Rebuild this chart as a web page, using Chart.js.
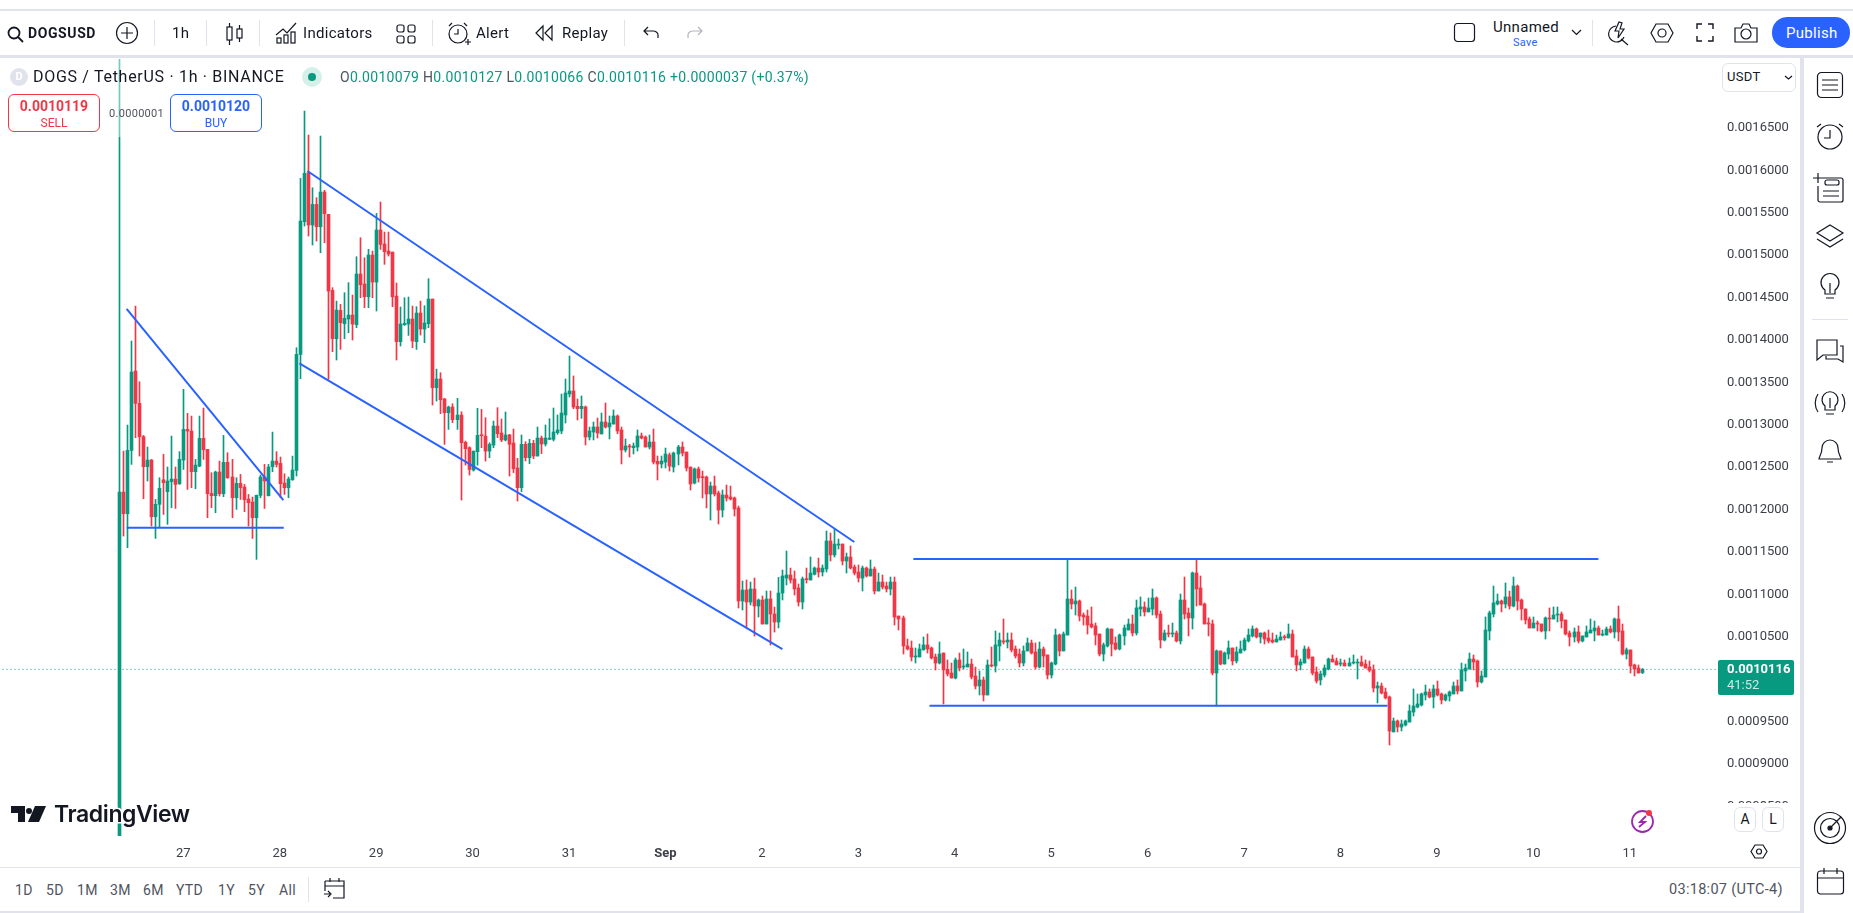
<!DOCTYPE html>
<html>
<head>
<meta charset="utf-8">
<title>DOGSUSD</title>
<script src="https://cdn.jsdelivr.net/npm/chart.js@4"></script>
<style>
  html, body { margin: 0; padding: 0; background: #fff; overflow: hidden; }
  body { width: 1853px; height: 913px; position: relative; font-family: Roboto, sans-serif; color: #131722; }
  .band { position: absolute; background: #e0e3eb; }
  .t { position: absolute; transform: translateY(-50%); white-space: nowrap; font-size: 15px; line-height: 1; letter-spacing: .3px; }
  .sep { position: absolute; width: 1px; background: #e0e3eb; }
  svg { position: absolute; fill: none; stroke: #131722; stroke-width: 1.2; overflow: visible; }
  canvas { position: absolute; left: 0; top: 59px; }
  .box { position: absolute; border-radius: 6px; background: #fff; box-sizing: border-box; text-align: center; }
  .g { color: #089981; } .m { color: #50535e; }
</style>
</head>
<body>
<canvas id="grafico" width="1800" height="808" style="width:1800px;height:808px"></canvas>

<div class="band" style="left:0;top:9px;width:1853px;height:2px"></div>
<div class="band" style="left:0;top:55px;width:1853px;height:3px"></div>
<div class="band" style="left:1800px;top:55px;width:4px;height:858px"></div>
<div class="band" style="left:0;top:911px;width:1800px;height:2px"></div>
<div class="band" style="left:0;top:867px;width:1800px;height:1px"></div>

<!-- legend veil over the first wick -->
<div style="position:absolute;left:0;top:58px;width:265px;height:79px;background:rgba(255,255,255,.45)"></div>

<!-- top toolbar -->
<svg style="left:7px;top:26px" width="18" height="18" stroke-width="1.8"><circle cx="7" cy="7" r="5.5" stroke-width="1.8"/><path d="M11 11l5 5" stroke-width="1.8"/></svg>
<span class="t" style="left:28px;top:33px;font-weight:700;font-size:14px;letter-spacing:.6px">DOGSUSD</span>
<svg style="left:116px;top:22px" width="22" height="22"><circle cx="11" cy="11" r="10.5"/><path d="M11 5v12M5 11h12"/></svg>
<div class="sep" style="left:154px;top:20px;height:26px"></div>
<span class="t" style="left:172px;top:33px">1h</span>
<div class="sep" style="left:206px;top:20px;height:26px"></div>
<svg style="left:226px;top:22px" width="17" height="24"><rect x="1" y="5" width="5" height="13"/><path d="M3.5 1v4M3.5 18v5"/><rect x="11" y="7" width="5" height="9"/><path d="M13.5 3v4M13.5 16v4"/></svg>
<div class="sep" style="left:259px;top:20px;height:26px"></div>
<svg style="left:276px;top:22px" width="21" height="22"><path d="M0 13l7-6 4 4 9-10"/><rect x="1" y="16" width="4" height="5"/><rect x="8" y="13" width="4" height="8"/><rect x="15" y="10" width="4" height="11"/></svg>
<span class="t" style="left:303px;top:33px">Indicators</span>
<svg style="left:396px;top:24px" width="20" height="20"><rect x="1" y="1" width="7" height="7" rx="2"/><rect x="12" y="1" width="7" height="7" rx="2"/><rect x="1" y="12" width="7" height="7" rx="2"/><rect x="12" y="12" width="7" height="7" rx="2"/></svg>
<div class="sep" style="left:432px;top:20px;height:26px"></div>
<svg style="left:447px;top:22px" width="24" height="24"><circle cx="11" cy="12" r="9"/><path d="M11 7v5H7M2 4l3-3M17 1l3 3M18 20h6M21 17v6"/></svg>
<span class="t" style="left:476px;top:33px">Alert</span>
<svg style="left:535px;top:25px" width="18" height="16"><path d="M8 1L1 8l7 7zM17 1l-7 7 7 7z"/></svg>
<span class="t" style="left:562px;top:33px">Replay</span>
<div class="sep" style="left:624px;top:20px;height:26px"></div>
<svg style="left:643px;top:26px" width="17" height="14"><path d="M5 1L1 5l4 4M1 5h9c3 0 5 2 5 4v3"/></svg>
<svg style="left:686px;top:26px;stroke:#b2b5be" width="17" height="14"><path d="M12 1l4 4-4 4M16 5H7C4 5 2 7 2 9v3"/></svg>
<svg style="left:1454px;top:23px" width="21" height="19"><rect x="0.5" y="0.5" width="20" height="18" rx="3"/></svg>
<span class="t" style="left:1493px;top:27px">Unnamed</span>
<span class="t" style="left:1513px;top:42px;font-size:11px;color:#2962ff">Save</span>
<svg style="left:1572px;top:30px" width="9" height="6"><path d="M0 0l4.5 4.5L9 0"/></svg>
<div class="sep" style="left:1592px;top:20px;height:26px"></div>
<svg style="left:1608px;top:21px" width="21" height="23"><path d="M8 5a8 8 0 1 0 8 11M13 18l7 6M11 1l-4 9h4l-1 7 6-9h-4l2-6z"/></svg>
<svg style="left:1650px;top:23px" width="24" height="20"><path d="M6 1h12l5 9-5 9H6l-5-9z"/><circle cx="12" cy="10" r="4"/></svg>
<svg style="left:1696px;top:23px" width="18" height="19"><path d="M1 6V1h5M12 1h5v5M17 13v5h-5M6 18H1v-5" stroke-width="1.4"/></svg>
<svg style="left:1734px;top:23px" width="24" height="20"><path d="M1 5h6l2-4h6l2 4h6v14H1z"/><circle cx="12" cy="11" r="5"/></svg>
<div style="position:absolute;left:1772px;top:17px;width:78px;height:31px;border-radius:15px;background:#2962ff"></div>
<span class="t" style="left:1786px;top:33px;color:#fff">Publish</span>

<!-- legend row -->
<div style="position:absolute;left:10px;top:68px;width:18px;height:18px;border-radius:50%;background:#e0e3eb;color:#fff;font-size:11px;font-weight:700;text-align:center;line-height:18px">D</div>
<span class="t" style="left:33px;top:77px;font-size:16px;letter-spacing:.7px">DOGS / TetherUS · 1h · BINANCE</span>
<div style="position:absolute;left:302px;top:67px;width:20px;height:20px;border-radius:50%;background:#d5efe9"></div>
<div style="position:absolute;left:308px;top:73px;width:8px;height:8px;border-radius:50%;background:#089981"></div>
<span class="t" style="left:340px;top:77px;font-size:14px"><span class="m">O</span><span class="g">0.0010079</span> <span class="m">H</span><span class="g">0.0010127</span> <span class="m">L</span><span class="g">0.0010066</span> <span class="m">C</span><span class="g">0.0010116 +0.0000037 (+0.37%)</span></span>

<div class="box" style="left:8px;top:94px;width:92px;height:38px;border:1px solid #f23645;color:#f23645">
  <div style="font-size:14px;font-weight:700;margin-top:3px">0.0010119</div><div style="font-size:12px;margin-top:2px">SELL</div>
</div>
<span class="t" style="left:109px;top:113px;font-size:11px;color:#50535e">0.0000001</span>
<div class="box" style="left:170px;top:94px;width:92px;height:38px;border:1px solid #2962ff;color:#2962ff">
  <div style="font-size:14px;font-weight:700;margin-top:3px">0.0010120</div><div style="font-size:12px;margin-top:2px">BUY</div>
</div>

<div class="box" style="left:1722px;top:63px;width:74px;height:29px;border:1px solid #e0e3eb"></div>
<span class="t" style="left:1727px;top:76px;font-size:13px">USDT</span>
<svg style="left:1785px;top:76px" width="7" height="4"><path d="M0 0l3.5 3L7 0"/></svg>

<!-- cuts the lowest price label like the pane does -->
<div style="position:absolute;left:1719px;top:803px;width:80px;height:32px;background:#fff"></div>
<div class="box" style="left:1734px;top:807px;width:22px;height:25px;border:1px solid #e0e3eb;font-size:14px;line-height:23px">A</div>
<div class="box" style="left:1762px;top:807px;width:22px;height:25px;border:1px solid #e0e3eb;font-size:14px;line-height:23px">L</div>
<svg style="left:1631px;top:810px;stroke:#9c27b0" width="23" height="23"><circle cx="11.5" cy="11.5" r="10.5" stroke-width="1.8"/><path d="M15 6l-6 6h5l-6 5" stroke-width="1.8"/></svg>
<div style="position:absolute;left:1646px;top:810px;width:6px;height:6px;border-radius:50%;background:#f23645"></div>
<svg style="left:1751px;top:844px" width="16" height="15"><path d="M4 1h8l4 6.5-4 6.5H4L0 7.5z"/><circle cx="8" cy="7.5" r="2.5"/></svg>

<!-- TradingView logo -->
<svg style="left:11px;top:806px;fill:#131722;stroke:none" width="36" height="18"><path d="M0 0h14v16H7V7H0zM15 5a3 3 0 1 0 6 0a3 3 0 1 0-6 0M24 0h11l-7 16H17z"/></svg>
<span class="t" style="left:54px;top:814px;font-family:Inter,sans-serif;font-weight:600;font-size:23px;letter-spacing:-.4px;-webkit-text-stroke:3px #fff;paint-order:stroke fill">TradingView</span>

<!-- range row -->
<span class="t m" style="left:15px;top:890px;font-size:14px">1D</span>
<span class="t m" style="left:46px;top:890px;font-size:14px">5D</span>
<span class="t m" style="left:77px;top:890px;font-size:14px">1M</span>
<span class="t m" style="left:110px;top:890px;font-size:14px">3M</span>
<span class="t m" style="left:143px;top:890px;font-size:14px">6M</span>
<span class="t m" style="left:176px;top:890px;font-size:14px">YTD</span>
<span class="t m" style="left:218px;top:890px;font-size:14px">1Y</span>
<span class="t m" style="left:248px;top:890px;font-size:14px">5Y</span>
<span class="t m" style="left:279px;top:890px;font-size:14px">All</span>
<div class="sep" style="left:308px;top:877px;height:25px"></div>
<svg style="left:324px;top:878px" width="21" height="21"><path d="M6 0v4M15 0v4M1 3h19v17H9M1 3v10M1 8h19M0 16h6M4 13l3 3-3 3"/></svg>
<span class="t m" style="left:1669px;top:890px;font-size:14.5px">03:18:07 (UTC-4)</span>

<!-- right sidebar -->
<svg style="left:1817px;top:72px" width="26" height="26"><rect x="0.5" y="0.5" width="25" height="25" rx="4"/><path d="M5 8h16M5 13h16M5 18h16"/></svg>
<svg style="left:1816px;top:122px" width="28" height="28"><circle cx="14" cy="15" r="12"/><path d="M14 8v8H8M1 5l4-3M27 5l-4-3"/></svg>
<svg style="left:1813px;top:172px" width="30" height="30"><path d="M0 6h10M5 1v10M8 6h20a2 2 0 0 1 2 2v20a2 2 0 0 1-2 2H7a2 2 0 0 1-2-2V14"/><rect x="12" y="8" width="14" height="5" rx="2"/><path d="M10 19h16M10 24h16"/></svg>
<svg style="left:1816px;top:224px" width="28" height="24"><path d="M14 1l13 8-13 8L1 9zM1 15l13 8 13-8"/></svg>
<svg style="left:1820px;top:273px" width="20" height="28"><path d="M5 17a9 9 0 1 1 10 0v4H5zM6 25h8M10 10v10"/></svg>
<div style="position:absolute;left:1812px;top:319px;width:36px;height:1px;background:#e0e3eb"></div>
<svg style="left:1816px;top:339px" width="28" height="26"><path d="M1 1h20v15H7l-6 5zM24 7h3v16l-5-3H10v-3"/></svg>
<svg style="left:1812px;top:388px" width="36" height="30"><path d="M13 18a8 8 0 1 1 10 0v4H13zM14 26h8M18 10v10M6 6a16 16 0 0 0 0 18M30 6a16 16 0 0 1 0 18"/></svg>
<svg style="left:1818px;top:438px" width="24" height="27"><path d="M12 2a8 8 0 0 1 8 8c0 6 3 9 3 11H1c0-2 3-5 3-11a8 8 0 0 1 8-8zM9 24h6"/></svg>
<svg style="left:1814px;top:812px" width="32" height="32"><circle cx="16" cy="16" r="15.5"/><circle cx="16" cy="16" r="9.5"/><circle cx="16" cy="16" r="2" fill="#131722"/><path d="M16 16L27 5"/></svg>
<svg style="left:1817px;top:867px" width="27" height="28"><rect x="0.5" y="4" width="26" height="23" rx="3"/><path d="M0.5 11h26M7 1v6M20 1v6"/></svg>

<script>
// all prices in units of 0.0000001 USDT, one entry per 1h candle
const unidad = 1e-7;

const opens = [
  8000,12207,11951,12698,13634,13253,12860,12506,12584,11916,
  12062,12352,12211,12329,12360,12305,12584,12946,12926,12447,
  12513,12840,12710,12191,12164,12443,12187,12557,12384,12140,
  12309,12266,12124,12089,11904,12168,12384,12164,12506,12572,
  12545,12313,12258,12352,12462,13830,15395,15973,15356,15599,
  15336,15745,15481,14585,14015,14349,14192,14247,14294,14180,
  14778,14660,14510,15002,14683,15297,15132,15049,15037,14518,
  13980,14180,14188,14247,13980,14318,14129,14192,14483,13437,
  13540,13304,13142,13209,13060,13115,12793,12730,12466,12683,
  12879,12867,12690,12761,12985,12903,12821,12880,12785,12491,
  12259,12770,12612,12781,12632,12844,12774,12829,12829,12907,
  12927,13116,13363,13399,13218,13190,13210,12856,12915,12974,
  12892,13033,12974,13009,13104,12939,12703,12750,12730,12738,
  12868,12856,12738,12797,12569,12538,12561,12644,12502,12656,
  12738,12679,12502,12314,12479,12384,12384,12184,12278,12196,
  11995,12172,12149,12137,12019,10922,11052,10910,11064,10863,
  10934,10651,10946,10769,10674,11016,11193,11229,11182,11076,
  10910,11182,11170,11237,11311,11264,11299,11630,11465,11582,
  11594,11394,11441,11323,11264,11193,11311,11217,11299,11040,
  11146,11099,11064,11146,10745,10722,10392,10368,10262,10262,
  10345,10404,10368,10262,10191,10309,10117,10073,10014,10227,
  10144,10144,10179,10038,9920,9991,9814,10168,10156,10392,
  10451,10439,10462,10356,10297,10191,10333,10427,10321,10144,
  10356,10286,10050,10179,10521,10333,10521,10946,10887,10922,
  10757,10745,10651,10628,10533,10297,10392,10592,10427,10356,
  10510,10580,10651,10545,10828,10852,10793,10828,10958,10769,
  10462,10545,10533,10545,10451,10934,10781,10722,11253,11076,
  10887,10663,10651,10073,10333,10179,10297,10368,10215,10309,
  10345,10451,10510,10592,10498,10545,10486,10462,10439,10462,
  10498,10486,10533,10274,10168,10191,10356,10262,10085,9991,
  10050,10120,10238,10215,10179,10191,10156,10191,10191,10203,
  10179,10144,10109,9896,9920,9849,9790,9378,9507,9436,
  9460,9495,9613,9672,9696,9814,9849,9790,9885,9826,
  9755,9802,9826,9920,9861,10097,10120,10238,10215,9967,
  10026,10569,10769,10887,10922,10887,10970,10863,11099,10934,
  10828,10710,10604,10663,10651,10569,10722,10710,10757,10769,
  10698,10545,10498,10557,10451,10498,10545,10569,10604,10521,
  10521,10592,10557,10710,10569,10297,10345,10168,10132,10079
];
const highs = [
  20000,12690,12997,13988,14400,13508,12875,12738,12592,12120,
  12376,12651,12502,12867,12502,12683,13418,13135,13103,12592,
  13103,13198,12710,12435,12454,12572,12875,12671,12592,12376,
  12415,12297,12179,12148,12172,12407,12533,12533,12914,12683,
  12620,12423,12384,12631,13909,15906,16700,16417,15796,15678,
  16405,15765,15481,14617,14459,14420,14558,14676,14530,14982,
  15206,14970,15069,15049,15493,15627,15273,15273,15037,14672,
  14389,14499,14507,14400,14393,14459,14404,14723,14483,13657,
  13614,13312,13221,13249,13312,13154,12808,12741,12690,13194,
  13182,13084,12789,13044,13202,13068,13151,12888,12950,12605,
  12880,12801,12829,12817,12974,12868,12998,13072,13198,13116,
  13363,13540,13811,13576,13304,13340,13222,12974,13033,13080,
  13139,13257,13104,13175,13116,12974,12833,12770,12785,12939,
  12903,12868,12880,12950,12632,12632,12726,12667,12679,12758,
  12797,12679,12502,12491,12502,12455,12396,12325,12396,12219,
  12231,12290,12278,12149,12042,11158,11170,11146,11193,10946,
  10981,11040,11040,10851,11201,11288,11512,11311,11276,11123,
  11205,11311,11441,11323,11429,11347,11748,11724,11771,11653,
  11594,11488,11571,11347,11347,11335,11323,11406,11323,11252,
  11229,11146,11205,11205,10745,10745,10474,10451,10368,10415,
  10498,10533,10380,10297,10439,10309,10227,10191,10250,10309,
  10356,10321,10238,10144,10097,10026,10227,10380,10569,10545,
  10710,10545,10545,10392,10356,10392,10486,10462,10427,10439,
  10380,10286,10203,10592,10533,10557,11406,11052,11087,10934,
  10781,10816,10852,10663,10533,10427,10604,10592,10498,10533,
  10639,10710,10757,10934,10970,10911,10958,11064,10970,10804,
  10580,10639,10663,10569,11005,11205,10840,11264,11406,11217,
  10899,10722,10698,10345,10333,10321,10451,10368,10380,10451,
  10486,10592,10628,10604,10545,10557,10580,10545,10521,10557,
  10521,10651,10580,10345,10238,10392,10380,10262,10144,10097,
  10168,10250,10286,10250,10238,10227,10250,10286,10238,10274,
  10227,10215,10168,9967,9955,9896,9802,9543,9519,9519,
  9519,9696,9885,9826,9837,9932,9885,9932,9979,9837,
  9826,9861,9967,9991,10191,10179,10309,10286,10227,10097,
  10734,10804,11099,11005,10934,11135,11040,11205,11111,10946,
  10828,10734,10734,10687,10651,10734,10840,10852,10852,10793,
  10698,10569,10604,10628,10510,10628,10710,10687,10628,10580,
  10616,10628,10722,10863,10651,10368,10345,10179,10168,10127
];
const lows = [
  7000,11688,11550,12533,12848,12631,12128,12337,11806,11660,
  11786,11943,11826,12022,12014,12297,12474,12238,12258,12246,
  12506,12592,11904,12022,11963,12160,12152,12368,11904,12003,
  12120,11975,11806,11660,11413,12140,12014,12160,12447,12502,
  12140,12179,12140,12345,12396,13544,15344,15226,15120,15167,
  15029,15147,13536,13862,13764,13889,14015,14086,14000,14145,
  14499,14381,14381,14499,14342,15069,14892,14990,14393,13764,
  13929,14172,14054,13909,13889,14058,13968,14145,13233,13280,
  13131,12769,12946,13025,12946,12113,12525,12407,12454,12525,
  12730,12572,12612,12730,12848,12801,12809,12396,12436,12101,
  12211,12573,12542,12601,12632,12660,12750,12825,12809,12888,
  12895,13021,13328,13190,13057,13076,12762,12821,12821,12844,
  12892,12962,12833,13009,12895,12538,12679,12620,12656,12691,
  12833,12738,12715,12538,12349,12491,12491,12455,12443,12526,
  12632,12455,12231,12302,12325,12137,12019,11877,12160,11830,
  11913,12101,12113,11924,10840,10816,10604,10875,10509,10733,
  10651,10651,10403,10556,10604,10934,11111,11134,10993,10863,
  10828,11134,11170,11229,11205,11217,11264,11394,11441,11535,
  11347,11252,11299,11229,11146,11040,11205,11217,11005,11040,
  11064,11028,10993,10639,10580,10297,10345,10215,10191,10262,
  10345,10309,10238,10109,10179,9708,10038,10014,10003,10097,
  10120,10144,10003,9885,9814,9743,9814,10144,10085,10215,
  10415,10368,10321,10250,10144,10156,10333,10297,10120,10132,
  10144,10003,10014,10168,10274,10333,10521,10828,10757,10687,
  10639,10533,10604,10404,10274,10215,10380,10274,10345,10345,
  10404,10580,10510,10521,10745,10745,10793,10757,10722,10368,
  10451,10498,10498,10439,10415,10710,10510,10592,10863,10875,
  10651,10510,10050,9684,10168,10179,10238,10168,10191,10309,
  10333,10439,10498,10486,10427,10415,10427,10427,10439,10462,
  10462,10486,10262,10097,10109,10191,10238,10050,9955,9932,
  10026,10109,10203,10168,10156,10156,10156,10179,10003,10156,
  10132,10085,9849,9720,9826,9767,9224,9378,9378,9389,
  9448,9495,9566,9661,9684,9755,9779,9661,9802,9708,
  9743,9743,9826,9826,9861,9979,10120,10109,9908,9955,
  10026,10462,10734,10875,10793,10840,10828,10852,10816,10698,
  10651,10604,10604,10569,10557,10474,10569,10710,10675,10604,
  10521,10392,10439,10427,10439,10498,10545,10451,10521,10510,
  10521,10545,10486,10451,10286,10238,10073,10038,10073,10066
];
const closes = [
  12207,11951,12698,13622,13253,12860,12506,12584,11916,12062,
  12250,12317,12337,12360,12297,12592,12946,12926,12447,12525,
  12840,12706,12187,12164,12443,12187,12557,12376,12140,12309,
  12258,12117,12081,11904,12168,12384,12337,12502,12572,12533,
  12305,12258,12360,12466,13830,15403,15965,15356,15599,15336,
  15745,15489,14577,14015,14353,14204,14255,14294,14188,14778,
  14652,14510,15002,14683,15297,15128,15041,15014,14510,13980,
  14188,14196,14247,13988,14318,14129,14200,14483,13437,13540,
  13296,13142,13209,13060,13115,12789,12718,12474,12690,12875,
  12871,12690,12769,12985,12895,12821,12880,12770,12483,12259,
  12770,12612,12781,12632,12844,12774,12844,12844,12915,12939,
  13139,13375,13399,13210,13190,13218,12856,12927,12974,12903,
  13033,12974,13021,13104,12927,12703,12750,12738,12750,12868,
  12844,12738,12797,12561,12538,12573,12656,12514,12667,12738,
  12667,12491,12302,12479,12373,12377,12184,12278,12184,11995,
  12172,12137,12125,12007,10922,11052,10910,11064,10863,10934,
  10651,10946,10769,10674,11016,11217,11229,11170,11064,10910,
  11182,11174,11252,11311,11264,11311,11630,11465,11594,11594,
  11394,11441,11311,11252,11193,11311,11217,11299,11040,11146,
  11087,11064,11146,10733,10710,10392,10356,10262,10274,10356,
  10404,10356,10250,10191,10297,10109,10062,10014,10227,10132,
  10156,10179,10026,9920,9991,9814,10168,10156,10404,10462,
  10439,10462,10345,10274,10191,10333,10427,10309,10144,10356,
  10274,10050,10191,10521,10333,10533,10946,10887,10922,10745,
  10734,10639,10616,10521,10297,10404,10592,10415,10356,10521,
  10604,10651,10545,10840,10852,10793,10840,10958,10757,10462,
  10545,10533,10545,10451,10934,10769,10722,11253,11064,10875,
  10651,10651,10073,10333,10179,10309,10368,10215,10321,10356,
  10462,10521,10592,10498,10545,10474,10451,10439,10474,10498,
  10490,10533,10262,10168,10203,10356,10250,10073,9979,10062,
  10132,10238,10203,10168,10191,10156,10191,10203,10203,10156,
  10132,10105,9896,9920,9837,9779,9389,9507,9436,9472,
  9507,9625,9684,9708,9826,9849,9790,9885,9814,9755,
  9814,9849,9920,9861,10109,10132,10238,10203,9967,10038,
  10580,10781,10899,10922,10887,10970,10863,11099,10922,10828,
  10698,10604,10663,10651,10569,10722,10710,10757,10769,10687,
  10533,10498,10557,10451,10510,10557,10580,10604,10521,10533,
  10592,10557,10710,10557,10297,10345,10156,10120,10073,10116
];

// time axis: candle index of each day label
const diasPos = [16, 40, 64, 88, 112, 136, 160, 184, 208, 232, 256, 280, 304, 328, 352, 376];
const diasTxt = ['27', '28', '29', '30', '31', 'Sep', '2', '3', '4', '5', '6', '7', '8', '9', '10', '11'];

const preciosEje = [850, 900, 950, 1000, 1050, 1100, 1150, 1200, 1250, 1300, 1350, 1400, 1450, 1500, 1550, 1600, 1650];

// drawn lines: candle index and price unit of both ends
const lineaCuñaX = [1.9, 40.9];       const lineaCuñaY = [14366, 12113];
const lineaBaseX = [1.9, 41];         const lineaBaseY = [11787, 11787];
const canalAltoX = [46.9, 183];       const canalAltoY = [15993, 11618];
const canalBajoX = [44.9, 165.1];     const canalBajoY = [13725, 10356];
const techoX = [197.7, 368.2];        const techoY = [11418, 11418];
const sueloX = [201.7, 315.7];        const sueloY = [9688, 9688];

const ultimoPrecio = 10116;

const VERDE = '#089981';
const ROJO = '#F23645';
const AZUL = '#2962FF';

const colores = closes.map((c, i) => (c >= opens[i] ? VERDE : ROJO));
const velas = closes.map((_, i) => i);

const segmento = (xs, ys, color = AZUL, extra = {}) => ({
  type: 'line',
  data: xs.map((x, i) => ({ x, y: ys[i] * unidad })),
  borderColor: color,
  borderWidth: 2,
  pointRadius: 0,
  order: 0,
  ...extra
});

// bars land on fractions of a pixel, TradingView keeps them crisp
const snapVelas = {
  id: 'snapVelas',
  afterDatasetsUpdate(chart) {
    [0, 1].forEach((d) => {
      chart.getDatasetMeta(d).data.forEach((el) => {
        el.x = Math.round(el.x) + 0.5;
      });
    });
  }
};

const etiquetaPrecio = {
  id: 'etiquetaPrecio',
  afterDraw(chart) {
    const { ctx, scales: { y }, chartArea } = chart;
    const py = Math.round(y.getPixelForValue(ultimoPrecio * unidad));
    const left = chartArea.right;
    ctx.save();
    ctx.fillStyle = VERDE;
    ctx.beginPath();
    ctx.roundRect(left, py - 9, 76, 35, 2);
    ctx.fill();
    ctx.textBaseline = 'middle';
    ctx.textAlign = 'left';
    ctx.fillStyle = '#fff';
    ctx.font = 'bold 13px Roboto';
    ctx.fillText((ultimoPrecio * unidad).toFixed(7), left + 9, py + 1);
    ctx.fillStyle = '#c8eae3';
    ctx.font = '13px Roboto';
    ctx.fillText('41:52', left + 9, py + 17);
    ctx.restore();
  }
};

new Chart(document.getElementById('grafico'), {
  type: 'bar',
  data: {
    datasets: [
      {
        data: velas.map((i) => ({ x: i, y: [lows[i] * unidad, highs[i] * unidad] })),
        backgroundColor: colores,
        barThickness: 1,
        grouped: false,
        order: 2
      },
      {
        data: velas.map((i) => ({ x: i, y: [opens[i] * unidad, closes[i] * unidad] })),
        backgroundColor: colores,
        barThickness: 3,
        minBarLength: 1,
        grouped: false,
        order: 1
      },
      segmento(lineaCuñaX, lineaCuñaY),
      segmento(lineaBaseX, lineaBaseY),
      segmento(canalAltoX, canalAltoY),
      segmento(canalBajoX, canalBajoY),
      segmento(techoX, techoY),
      segmento(sueloX, sueloY),
      segmento([-30, 398], [ultimoPrecio, ultimoPrecio], VERDE, { borderWidth: 1, borderDash: [1, 3], order: 3 })
    ]
  },
  plugins: [snapVelas, etiquetaPrecio],
  options: {
    responsive: false,
    animation: false,
    devicePixelRatio: 1,
    layout: { padding: 0 },
    plugins: { legend: { display: false }, tooltip: { enabled: false } },
    scales: {
      x: {
        type: 'linear',
        offset: false,
        min: -119 / 4.018,
        max: (1718 - 119) / 4.018,
        grid: { display: false, drawTicks: false },
        border: { display: false },
        afterBuildTicks: (axis) => { axis.ticks = diasPos.map((value) => ({ value })); },
        afterFit: (axis) => {
          axis.height = 31;
          axis.paddingLeft = 0;
          axis.paddingRight = 0;
        },
        ticks: {
          autoSkip: false,
          maxRotation: 0,
          padding: 10,
          color: '#3d4048',
          font: (ctx) => (ctx.tick && ctx.tick.value === 136
            ? { family: 'Roboto', size: 13, weight: 'bold' }
            : { family: 'Roboto', size: 13 }),
          callback: (v) => diasTxt[diasPos.indexOf(v)]
        }
      },
      y: {
        position: 'right',
        min: 0.0008151,
        max: 0.00173137,
        grid: { display: false, drawTicks: false },
        border: { display: false },
        afterBuildTicks: (axis) => { axis.ticks = preciosEje.map((p) => ({ value: p * 1e-6 })); },
        afterFit: (axis) => {
          axis.width = 82;
          axis.paddingTop = 0;
          axis.paddingBottom = 0;
        },
        ticks: {
          autoSkip: false,
          padding: 9,
          color: '#3d4048',
          font: { family: 'Roboto', size: 13 },
          callback: (v) => v.toFixed(7)
        }
      }
    }
  }
});
</script>
</body>
</html>
